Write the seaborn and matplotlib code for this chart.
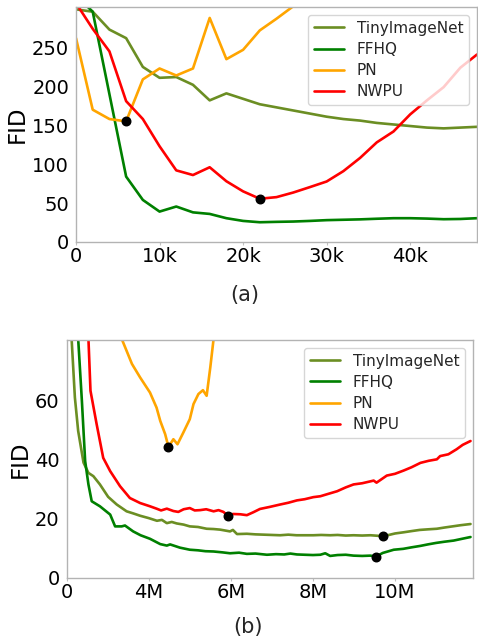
import matplotlib.pyplot as plt
import numpy as np
import pandas as pd
import seaborn as sns

names = ["TinyImageNet", "FFHQ", "PN", "NWPU"]
colors = {"TinyImageNet": "#6b8e23", "FFHQ": "#008000", "PN": "#ffa500", "NWPU": "#ff0000"}

# (a) FID per training step
a_steps = [0, 2000, 4000, 6000, 8000, 10000, 12000, 14000, 16000, 18000, 20000, 22000,
           24000, 26000, 28000, 30000, 32000, 34000, 36000, 38000, 40000, 42000, 44000,
           46000, 48000]
a_tiny = [299, 296, 273, 262, 225, 211, 212, 202, 182, 191, 184, 177, 173, 169, 165, 161,
          158, 156, 153, 151, 149, 147, 146, 147, 148]
a_ffhq = [317, 296, 190, 84, 54, 39, 45.5, 38, 36, 30.5, 27, 25.3, 25.8, 26.2, 27, 28,
          28.5, 29, 29.8, 30.5, 30.5, 30, 29.2, 29.5, 30.5]
a_pn = [262, 170, 158, 155, 209, 223, 214, 223, 288, 235, 247, 272, 287, 303, 318]
a_nwpu = [307, 274, 245, 181, 158, 123, 92, 86, 96, 78, 65, 55.5, 57.6, 63.5, 70.5, 77.7,
          91, 108, 128, 142, 164, 182, 199, 224, 241]

# (b) FID per image count (millions)
b_tiny_x = [0.08, 0.12, 0.2, 0.28, 0.41, 0.53, 0.65, 0.81, 1.01, 1.22, 1.46, 1.62, 1.79,
            2.0, 2.2, 2.32, 2.44, 2.56, 2.68, 2.85, 3.0, 3.2, 3.41, 3.58, 3.74, 3.86, 3.98,
            4.05, 4.15, 4.39, 4.6, 4.8, 5.0, 5.2, 5.4, 5.6, 5.8, 6.01, 6.2, 6.42, 6.6, 6.8,
            6.99, 7.2, 7.4, 7.6, 7.7, 7.85, 8.0, 8.21, 8.4, 8.6, 8.8, 9.02, 9.2, 9.4, 9.6,
            9.84]
b_tiny = [90, 80.9, 61, 49.7, 39, 35.5, 34.4, 31.6, 27.4, 24.8, 22.5, 21.8, 21, 20.2, 19.3,
          19.6, 18.5, 18.9, 18.4, 18.0, 17.4, 17.2, 16.6, 16.5, 16.3, 16.0, 15.7, 16.2, 14.8,
          14.9, 14.7, 14.6, 14.5, 14.4, 14.6, 14.4, 14.4, 14.4, 14.5, 14.4, 14.5, 14.3, 14.4,
          14.3, 14.4, 14.2, 14.0, 14.5, 15.0, 15.4, 15.8, 16.2, 16.4, 16.6, 17.0, 17.4, 17.8,
          18.2]
b_ffhq_x = [0.24, 0.28, 0.37, 0.45, 0.53, 0.61, 0.81, 1.06, 1.18, 1.34, 1.42, 1.62, 1.8,
            2.03, 2.28, 2.44, 2.52, 2.76, 3.0, 3.2, 3.38, 3.58, 3.8, 3.98, 4.2, 4.39, 4.6,
            4.88, 5.1, 5.3, 5.45, 5.61, 5.8, 6.0, 6.18, 6.3, 6.42, 6.6, 6.8, 6.99, 7.2, 7.4,
            7.54, 7.7, 7.97, 8.2, 8.4, 8.62, 8.8, 9.0, 9.2, 9.43, 9.6, 9.84]
b_ffhq = [90, 80.9, 60, 39.5, 31.6, 25.9, 24.2, 21.4, 17.4, 17.4, 17.7, 15.7, 14.4, 13.2,
          11.4, 10.9, 11.3, 10.2, 9.5, 9.3, 9.0, 8.9, 8.6, 8.3, 8.5, 8.1, 8.2, 7.8, 8.0, 7.9,
          8.2, 7.9, 7.8, 7.7, 7.8, 8.3, 7.4, 7.7, 7.8, 7.5, 7.4, 7.5, 7.2, 8.4, 9.5, 9.8, 10.3,
          10.8, 11.3, 11.8, 12.2, 12.6, 13.1, 13.8]
b_pn_x = [1.2, 1.34, 1.59, 1.79, 2.03, 2.19, 2.28, 2.40, 2.48, 2.6, 2.7, 2.84, 3.0, 3.09,
          3.21, 3.32, 3.41, 3.5, 3.58, 3.65]
b_pn = [86, 80.9, 72.4, 67.8, 62.7, 57.6, 53.1, 48.6, 44.3, 46.9, 45.2, 49.1, 53.7, 58.8,
        62.2, 63.5, 61.6, 71.3, 80.9, 88]
b_nwpu_x = [0.5, 0.53, 0.58, 0.73, 0.89, 1.06, 1.3, 1.54, 1.79, 2.03, 2.19, 2.3, 2.44, 2.6,
            2.72, 2.85, 3.0, 3.12, 3.25, 3.4, 3.58, 3.7, 3.82, 3.94, 4.05, 4.23, 4.39, 4.55,
            4.71, 4.95, 5.2, 5.4, 5.61, 5.8, 6.01, 6.18, 6.42, 6.59, 6.8, 6.99, 7.2, 7.48,
            7.55, 7.8, 8.0, 8.21, 8.4, 8.62, 8.82, 9.02, 9.1, 9.3, 9.5, 9.65, 9.84]
b_nwpu = [91, 80.9, 63.3, 52, 40.6, 36.1, 31, 27, 25.3, 24.2, 23.4, 22.8, 23.4, 22.6, 22.3,
          23.2, 23.6, 22.8, 22.9, 23.2, 22.5, 22.9, 22.3, 20.8, 21.6, 21.5, 21.2, 22.2, 23.3,
          24.0, 24.8, 25.4, 26.2, 26.6, 27.3, 27.6, 28.6, 29.3, 30.6, 31.6, 32.0, 32.9, 32.2,
          34.6, 35.2, 36.3, 37.4, 38.9, 39.6, 40.1, 41.2, 41.8, 43.5, 45.0, 46.3]

a_xticks = [0, 10000, 20000, 30000, 40000]
a_xticklabels = ["0", "10k", "20k", "30k", "40k"]
a_yticks = [0, 50, 100, 150, 200, 250]
b_xticks = [0, 2, 4, 6, 8]
b_xticklabels = ["0", "4M", "6M", "8M", "10M"]
b_yticks = [0, 20, 40, 60]


def long_form(series):
    frames = []
    for name, (xs, ys) in series.items():
        frames.append(pd.DataFrame({"x": xs, "FID": ys, "dataset": name}))
    return pd.concat(frames, ignore_index=True)


def draw_panel(ax, df, marked):
    sns.lineplot(data=df, x="x", y="FID", hue="dataset", hue_order=names,
                 palette=colors, linewidth=1.9, estimator=None, ax=ax)
    for name in marked:
        sub = df[df["dataset"] == name].reset_index(drop=True)
        i = sub["FID"].idxmin()
        ax.scatter(sub.loc[i, "x"], sub.loc[i, "FID"], s=38, color="black", zorder=5)
    sns.move_legend(ax, "upper right", title=None, fontsize=11, frameon=True,
                    labelspacing=0.4)
    ax.set_xlabel("")
    ax.set_ylabel("FID", fontsize=16.5, color="black")
    ax.tick_params(labelsize=14, pad=1.5, colors="black")
    ax.tick_params(axis="x", bottom=True, length=2, width=0.8, color="#c0c0c0")
    for spine in ax.spines.values():
        spine.set_color("#b3b3b3")
        spine.set_linewidth(1.0)


sns.set_style("white")
plt.rcParams["font.family"] = ["DejaVu Sans"]

fig = plt.figure(figsize=(4.78, 6.4), dpi=100)
ax_a = fig.add_axes([0.159, 0.622, 0.839, 0.367])
ax_b = fig.add_axes([0.1395, 0.0972, 0.85, 0.3716])

df_a = long_form({
    "TinyImageNet": (a_steps, a_tiny),
    "FFHQ": (a_steps, a_ffhq),
    "PN": (a_steps[:len(a_pn)], a_pn),
    "NWPU": (a_steps, a_nwpu),
})
draw_panel(ax_a, df_a, ["PN", "NWPU"])
ax_a.set_xlim(0, 48000)
ax_a.set_ylim(0, 302)
ax_a.set_xticks(a_xticks, a_xticklabels)
ax_a.set_yticks(a_yticks)
ax_a.yaxis.set_label_coords(-0.118, 0.5)

df_b = long_form({
    "TinyImageNet": (b_tiny_x, b_tiny),
    "FFHQ": (b_ffhq_x, b_ffhq),
    "PN": (b_pn_x, b_pn),
    "NWPU": (b_nwpu_x, b_nwpu),
})
draw_panel(ax_b, df_b, names)
ax_b.set_xlim(0, 9.9)
ax_b.set_ylim(0, 80.5)
ax_b.set_xticks(b_xticks, b_xticklabels)
ax_b.set_yticks(b_yticks)
ax_b.yaxis.set_label_coords(-0.085, 0.5)

fig.text(0.513, 0.539, "(a)", fontsize=15, ha="center", va="center")
fig.text(0.519, 0.02, "(b)", fontsize=15, ha="center", va="center")

fig.savefig("out.png", dpi=100)
